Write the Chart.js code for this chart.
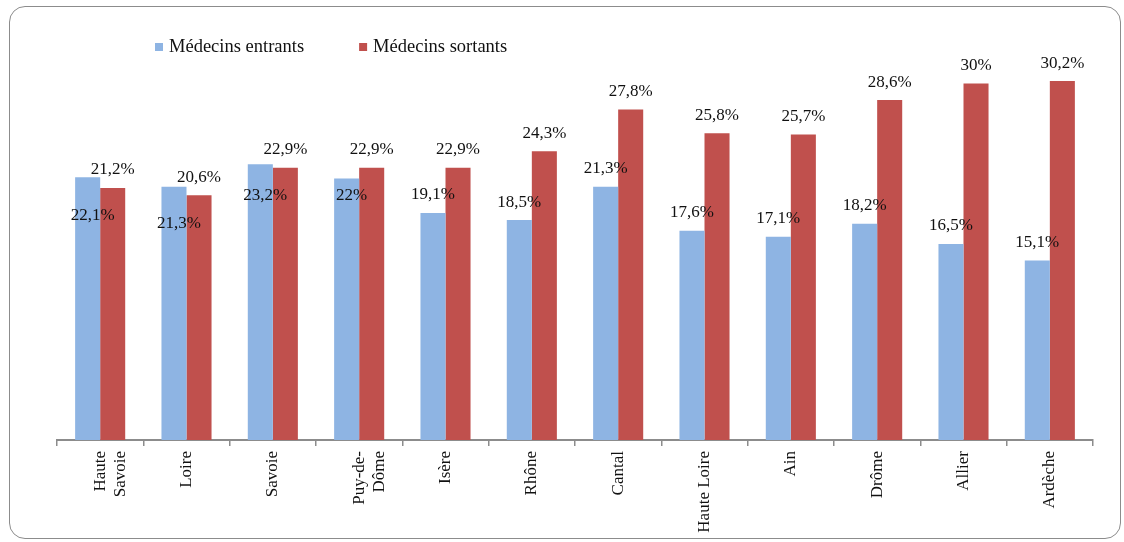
<!DOCTYPE html>
<html lang="fr">
<head>
    <meta charset="UTF-8">
    <title>Médecins entrants / sortants</title>
    <script src="https://cdn.jsdelivr.net/npm/chart.js"></script>
    <style>
        body {
            margin: 0;
            background-color: white;
            font-family: 'Liberation Serif', serif;
        }
        .page {
            position: relative;
            width: 1124px;
            height: 542px;
            overflow: hidden;
        }
        .frame {
            position: absolute;
            left: 9px;
            top: 6px;
            width: 1112px;
            height: 533px;
            border: 1.5px solid #8c8c8c;
            border-radius: 16px;
            box-sizing: border-box;
        }
        canvas {
            position: absolute;
            left: 0;
            top: 0;
        }
    </style>
</head>
<body>
    <div class="page">
        <div class="frame"></div>
        <canvas id="barChart" width="1124" height="542"></canvas>
    </div>

    <script>
        const departements = [
            ['Haute', 'Savoie'], 'Loire', 'Savoie', ['Puy-de-', 'Dôme'], 'Isère', 'Rhône',
            'Cantal', 'Haute Loire', 'Ain', 'Drôme', 'Allier', 'Ardèche'
        ];
        const entrants = [22.1, 21.3, 23.2, 22, 19.1, 18.5, 21.3, 17.6, 17.1, 18.2, 16.5, 15.1];
        const sortants = [21.2, 20.6, 22.9, 22.9, 22.9, 24.3, 27.8, 25.8, 25.7, 28.6, 30, 30.2];

        const labelFont = '17px "Liberation Serif", serif';

        function fmt(v) {
            return String(v).replace('.', ',') + '%';
        }

        // valeurs au-dessus des barres (entrants décalés vers le bas si chevauchement)
        const valueLabels = {
            id: 'valueLabels',
            afterDatasetsDraw(chart) {
                const ctx = chart.ctx;
                ctx.save();
                ctx.font = labelFont;
                ctx.fillStyle = '#111';
                ctx.textAlign = 'center';
                ctx.textBaseline = 'middle';
                const blue = chart.getDatasetMeta(0).data;
                const red = chart.getDatasetMeta(1).data;
                blue.forEach((bar, i) => {
                    const redY = red[i].y - 18;
                    const v1 = chart.data.datasets[0].data[i];
                    const v2 = chart.data.datasets[1].data[i];
                    let y1 = bar.y - 18;
                    let x1 = bar.x;
                    if (Math.abs(y1 - redY) < 20) {
                        y1 = redY + 46;
                        x1 = bar.x + 5;
                    }
                    ctx.fillText(fmt(v1), x1, y1);
                    ctx.fillText(fmt(v2), red[i].x, redY);
                });
                ctx.restore();
            }
        };

        const simpleLegend = {
            id: 'simpleLegend',
            afterDraw(chart) {
                const ctx = chart.ctx;
                ctx.save();
                ctx.font = '18.5px "Liberation Serif", serif';
                ctx.textBaseline = 'middle';
                let x = 155;
                const y = 47;
                chart.data.datasets.forEach(ds => {
                    ctx.fillStyle = ds.backgroundColor;
                    ctx.fillRect(x, y - 4, 8, 8);
                    ctx.fillStyle = '#111';
                    ctx.fillText(ds.label, x + 14, y);
                    x += 14 + ctx.measureText(ds.label).width + 55;
                });
                ctx.restore();
            }
        };

        const ctx = document.getElementById('barChart').getContext('2d');
        new Chart(ctx, {
            type: 'bar',
            data: {
                labels: departements,
                datasets: [
                    { label: 'Médecins entrants', data: entrants, backgroundColor: '#8EB4E3' },
                    { label: 'Médecins sortants', data: sortants, backgroundColor: '#C0504D' }
                ]
            },
            options: {
                responsive: false,
                animation: false,
                layout: { padding: { left: 57, right: 31, top: 24, bottom: 0 } },
                categoryPercentage: 0.58,
                barPercentage: 1.0,
                plugins: {
                    legend: { display: false },
                    tooltip: { enabled: false }
                },
                scales: {
                    x: {
                        grid: {
                            drawOnChartArea: false,
                            tickLength: 6,
                            color: '#8c8c8c',
                            lineWidth: 1.5
                        },
                        border: { color: '#8c8c8c', width: 2 },
                        ticks: {
                            color: '#111',
                            font: { family: '"Liberation Serif", serif', size: 17, lineHeight: 1.2 },
                            minRotation: 90,
                            maxRotation: 90,
                            padding: 5,
                            autoSkip: false
                        },
                        afterFit(scale) { scale.height = 102; }
                    },
                    y: {
                        display: false,
                        min: 0,
                        max: 35
                    }
                }
            },
            plugins: [valueLabels, simpleLegend]
        });
    </script>
</body>
</html>
